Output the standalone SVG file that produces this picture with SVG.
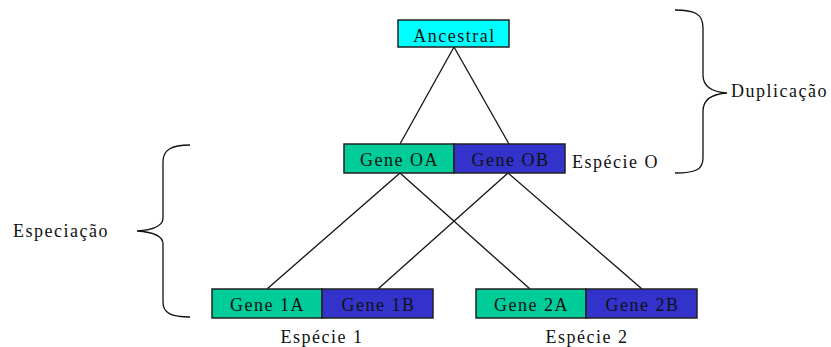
<svg xmlns="http://www.w3.org/2000/svg" width="831" height="347" viewBox="0 0 831 347">
<style>
text{font-family:"Liberation Serif","Times New Roman",serif;font-size:18px;fill:#111;letter-spacing:1.5px}
.m{text-anchor:middle}
.box{stroke:#222;stroke-width:1.5}
.cy{fill:#00FFFF}.gr{fill:#00CC99}.bl{fill:#3333CC}
.ln{stroke:#111;stroke-width:1.3;fill:none}
</style>
<rect width="831" height="347" fill="#fff"/>
<g id="connectors">
<line class="ln" x1="454" y1="47" x2="400" y2="144"/>
<line class="ln" x1="454" y1="47" x2="509" y2="144"/>
<line class="ln" x1="400" y1="173" x2="267" y2="289"/>
<line class="ln" x1="400" y1="173" x2="530" y2="289"/>
<line class="ln" x1="508" y1="173" x2="378" y2="289"/>
<line class="ln" x1="508" y1="173" x2="642" y2="289"/>
</g>
<g id="ancestral">
<rect class="box cy" x="398" y="20" width="111" height="27"/>
<text class="m" x="454.5" y="42">Ancestral</text>
</g>
<g id="geneOA">
<rect class="box gr" x="344" y="144" width="110" height="29"/>
<text class="m" x="399.5" y="166">Gene OA</text>
</g>
<g id="geneOB">
<rect class="box bl" x="454" y="144" width="111" height="29"/>
<text class="m" x="510.5" y="166">Gene OB</text>
</g>
<g id="gene1A">
<rect class="box gr" x="212" y="289" width="110" height="29"/>
<text class="m" x="267.5" y="311">Gene 1A</text>
</g>
<g id="gene1B">
<rect class="box bl" x="322" y="289" width="111" height="29"/>
<text class="m" x="378.5" y="311">Gene 1B</text>
</g>
<g id="gene2A">
<rect class="box gr" x="476" y="289" width="110" height="29"/>
<text class="m" x="531.5" y="311">Gene 2A</text>
</g>
<g id="gene2B">
<rect class="box bl" x="586" y="289" width="111" height="29"/>
<text class="m" x="642.5" y="311">Gene 2B</text>
</g>
<g id="labels">
<text x="572" y="168">Espécie O</text>
<text class="m" x="322" y="343">Espécie 1</text>
<text class="m" x="587" y="343">Espécie 2</text>
</g>
<g id="duplicacao">
<path class="ln" d="M675,10 C695,10 703,14 703,28 L703,75 C703,86 712,92 727,93 C712,94 703,100 703,111 L703,158 C703,170 695,173 675,173"/>
<text x="731" y="97">Duplicação</text>
</g>
<g id="especiacao">
<path class="ln" d="M190,145 C171,145 163,150 163,162 L163,218 C163,226 152,230 137,231 C152,232 163,236 163,244 L163,302 C163,313 171,317 190,317"/>
<text x="13" y="237">Especiação</text>
</g>
</svg>
